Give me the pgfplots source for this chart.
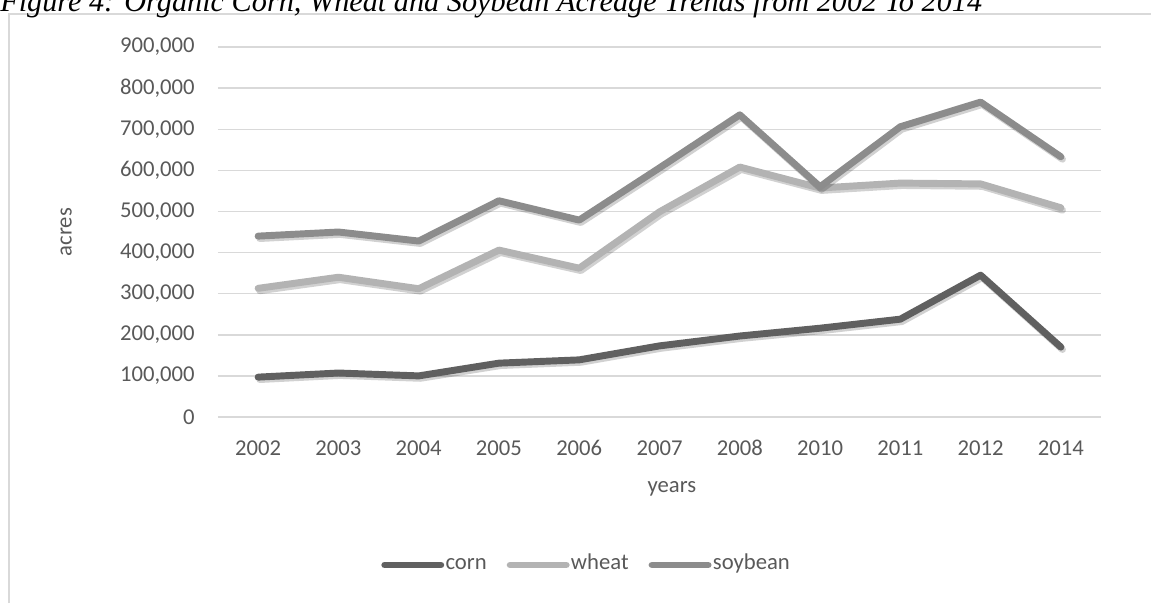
\documentclass[border=0pt]{standalone}
\usepackage{pgfplots}
\pgfplotsset{compat=1.18}
\usepackage{fontspec}
\setmainfont{Carlito}
\newfontfamily\titlefont{Liberation Serif}
\definecolor{corncol}{HTML}{606060}
\definecolor{wheatcol}{HTML}{B3B3B3}
\definecolor{soycol}{HTML}{8C8C8C}
\definecolor{txtcol}{HTML}{595959}
\definecolor{gridcol}{HTML}{D9D9D9}
\begin{document}
\begin{tikzpicture}
\begin{scope}[shift={(-163.5pt,312.75pt)}, x=0.75pt, y=-0.75pt]
\useasboundingbox (0,0) rectangle (1151,603);
\draw[gridcol, line width=1.2pt] (9,603) -- (9,14) -- (1160,14);
\node[anchor=base west, inner sep=0pt, font=\titlefont\itshape\fontsize{22.7}{26}\selectfont] at (0,12) {Figure 4: Organic Corn, Wheat and Soybean Acreage Trends from 2002 To 2014};
\end{scope}
\begin{axis}[
  at={(0,0)}, anchor=south west,
  scale only axis, width=662.25pt, height=277.5pt,
  xmin=-0.5, xmax=10.5, ymin=0, ymax=900000,
  xtick={0,...,10},
  xticklabels={2002,2003,2004,2005,2006,2007,2008,2010,2011,2012,2014},
  ytick={0,100000,...,900000},
  scaled y ticks=false,
  /pgf/number format/.cd, fixed, 1000 sep={,}, assume math mode=true, /pgfplots/.cd,
  axis line style={draw=none},
  major tick length=0pt,
  ymajorgrids, grid style={gridcol, line width=1.1pt},
  tick label style={font=\fontsize{17}{20}\selectfont, text=txtcol},
  yticklabel style={anchor=east, xshift=-14pt},
  xticklabel style={anchor=north, yshift=-14pt},
  xlabel={years}, ylabel={acres},
  label style={font=\fontsize{17}{20}\selectfont, text=txtcol},
  xlabel style={at={(axis description cs:0.514,-0.195)}, anchor=center},
  ylabel style={at={(axis description cs:-0.172,0.5)}, anchor=center},
  legend columns=3,
  legend style={at={(axis description cs:0.417,-0.40)}, anchor=center, draw=none, fill=none,
    font=\fontsize{17}{20}\selectfont, text=txtcol,
    /tikz/every even column/.append style={column sep=14pt},
    nodes={inner xsep=1pt, text height=1.75ex, text depth=0.45ex}},
  legend image code/.code={\draw[#1, line cap=round] (0pt,0pt) -- (42pt,0pt);},
  every axis plot/.append style={line width=5.2pt, line join=round, line cap=round},
  clip=false,
]
% shadows
\addplot[black, opacity=0.18, xshift=1.2pt, yshift=-1.8pt, forget plot] coordinates {(0,97000) (1,107000) (2,100000) (3,131000) (4,139000) (5,173000) (6,197000) (7,216000) (8,238000) (9,345000) (10,170000)};
\addplot[corncol] coordinates {(0,97000) (1,107000) (2,100000) (3,131000) (4,139000) (5,173000) (6,197000) (7,216000) (8,238000) (9,345000) (10,170000)};
\addplot[black, opacity=0.18, xshift=1.2pt, yshift=-1.8pt, forget plot] coordinates {(0,313000) (1,340000) (2,312000) (3,406000) (4,362000) (5,499000) (6,608000) (7,557000) (8,569000) (9,567000) (10,509000)};
\addplot[wheatcol] coordinates {(0,313000) (1,340000) (2,312000) (3,406000) (4,362000) (5,499000) (6,608000) (7,557000) (8,569000) (9,567000) (10,509000)};
\addplot[black, opacity=0.18, xshift=1.2pt, yshift=-1.8pt, forget plot] coordinates {(0,440000) (1,450000) (2,428000) (3,526000) (4,479000) (5,606000) (6,735000) (7,560000) (8,706000) (9,766000) (10,633000)};
\addplot[soycol] coordinates {(0,440000) (1,450000) (2,428000) (3,526000) (4,479000) (5,606000) (6,735000) (7,560000) (8,706000) (9,766000) (10,633000)};
\legend{corn,wheat,soybean}
\end{axis}
\end{tikzpicture}
\end{document}
